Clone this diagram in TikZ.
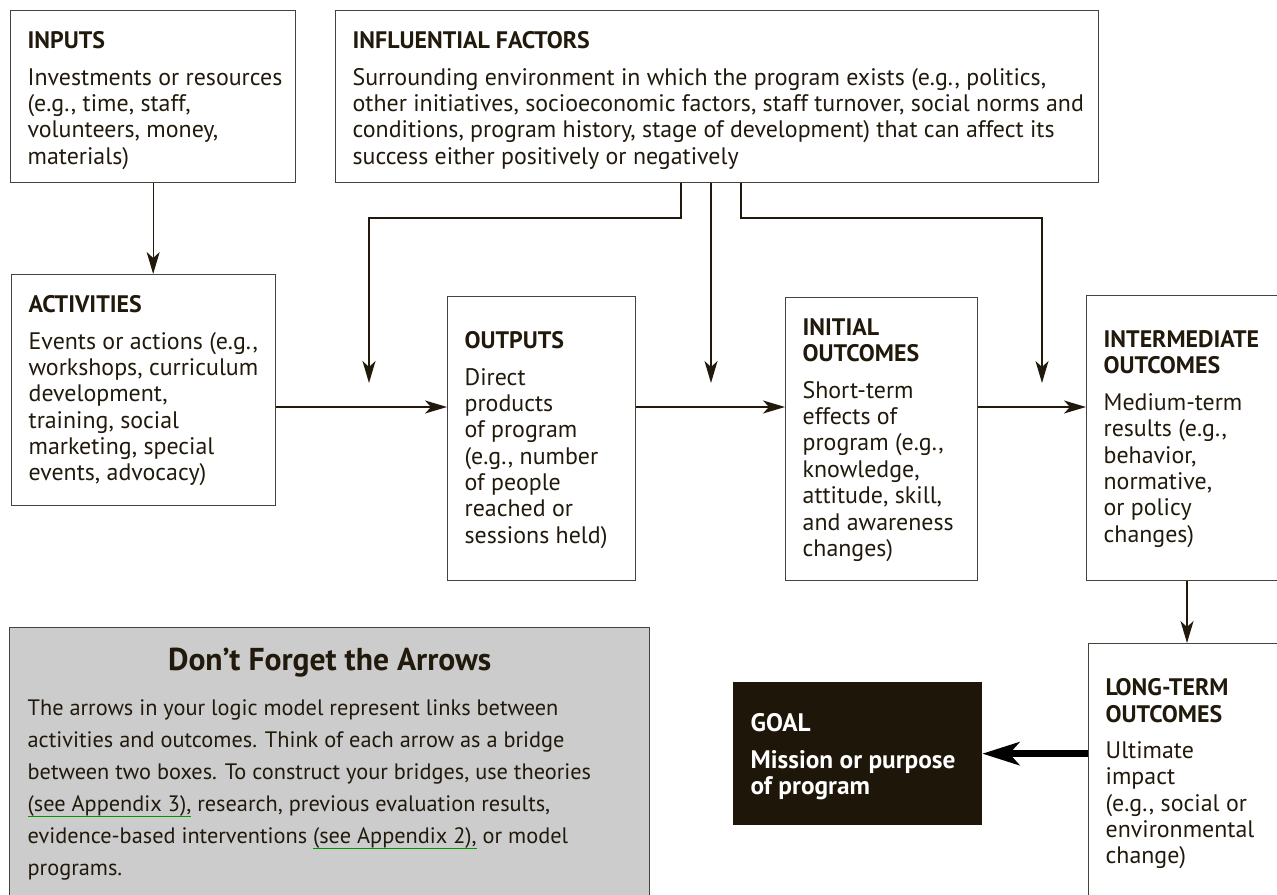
\documentclass[tikz,border=0pt]{standalone}
\usepackage{fontspec}
\setmainfont{PT Sans}
\usetikzlibrary{arrows.meta}

\definecolor{inkcol}{RGB}{33,26,12}
\definecolor{edgecol}{RGB}{72,66,58}
\definecolor{notefill}{RGB}{204,204,204}
\definecolor{goalfill}{RGB}{30,22,8}
\definecolor{linkgreen}{RGB}{0,150,0}

\newcommand{\stagefont}{\fontsize{13.6pt}{15pt}\selectfont}
% box text: [top offset]{width}{height}{title}{body}
\newcommand{\stagetext}[5][0pt]{\makebox[#2][l]{\parbox[t][#3][t]{24cm}{\raggedright\vspace*{#1}\textbf{#4}\\[0.2cm]#5}}}
\newlength{\linkwd}
\newcommand{\seelink}[1]{\leavevmode\settowidth{\linkwd}{#1}\rlap{\textcolor{linkgreen}{\rule[-3.6pt]{\linkwd}{0.9pt}}}#1}

\begin{document}
\begin{tikzpicture}[
    stage/.style={rectangle, draw=edgecol, line width=0.75pt, anchor=north west, inner xsep=0.34cm, inner ysep=0.42cm, font=\stagefont, text=inkcol},
    goalbox/.style={stage, draw=goalfill, fill=goalfill, text=white, font=\fontsize{14.4pt}{15pt}\selectfont},
    note/.style={rectangle, draw=edgecol, line width=0.75pt, fill=notefill, anchor=north west, inner xsep=0.36cm, inner ysep=0.4cm, text=inkcol},
    arrow/.style={-{Stealth[length=0.44cm, width=0.26cm, inset=0.12cm]}, line width=0.7pt, draw=inkcol},
    bigarrow/.style={-{Stealth[length=0.74cm, width=0.46cm, inset=0.2cm]}, line width=4.2pt, draw=black}
]
\useasboundingbox (0,0) rectangle (25.54,-17.9);
\clip (0,0) rectangle (25.54,-17.9);

% Ligne du haut
\node[stage] (inputs) at (0.2,-0.2) {\stagetext{5.02cm}{2.6cm}{INPUTS}{Investments or resources\\(e.g., time, staff,\\volunteers, money,\\materials)}};
\node[stage] (factors) at (6.7,-0.2) {\stagetext{14.58cm}{2.6cm}{INFLUENTIAL FACTORS}{Surrounding environment in which the program exists (e.g., politics,\\other initiatives, socioeconomic factors, staff turnover, social norms and\\conditions, program history, stage of development) that can affect its\\success either positively or negatively}};

% Chaine principale
\node[stage] (activities) at (0.22,-5.48) {\stagetext{4.6cm}{3.78cm}{ACTIVITIES}{Events or actions (e.g.,\\workshops, curriculum\\development,\\training, social\\marketing, special\\events, advocacy)}};
\node[stage] (outputs) at (8.94,-5.92) {\stagetext[0.28cm]{3.08cm}{4.84cm}{OUTPUTS}{Direct\\products\\of program\\(e.g., number\\of people\\reached or\\sessions held)}};
\node[stage] (initial) at (15.7,-5.94) {\stagetext{3.16cm}{4.82cm}{INITIAL\\OUTCOMES}{Short-term\\effects of\\program (e.g.,\\knowledge,\\attitude, skill,\\and awareness\\changes)}};
\node[stage] (intermediate) at (21.72,-5.9) {\stagetext[0.28cm]{4.32cm}{4.86cm}{INTERMEDIATE\\OUTCOMES}{Medium-term\\results (e.g.,\\behavior,\\normative,\\or policy\\changes)}};
\node[stage] (longterm) at (21.76,-12.86) {\stagetext[0.28cm]{4.32cm}{5.16cm}{LONG-TERM\\OUTCOMES}{Ultimate\\impact\\(e.g., social or\\environmental\\change)}};
\node[goalbox] (goal) at (14.66,-13.64) {\stagetext[0.2cm]{4.28cm}{2.0cm}{GOAL}{{\bfseries Mission or purpose\\of program}}};

% Encadre gris
\node[note] (arrowsnote) at (0.18,-12.54) {\parbox[t][5.2cm][t]{12.08cm}{%
  {\centering\fontsize{18pt}{20pt}\selectfont\bfseries Don’t Forget the Arrows\par}
  \vspace{0.26cm}
  {\raggedright\fontsize{12.7pt}{0.64cm}\selectfont The arrows in your logic model represent links between\\activities and outcomes. Think of each arrow as a bridge\\between two boxes. To construct your bridges, use theories\\\seelink{(see Appendix 3),} research, previous evaluation results,\\evidence-based interventions \seelink{(see Appendix 2),} or model\\programs.\par}}};

% Fleches
\coordinate (flow) at (0,-8.14);
\coordinate (dropL) at (13.62,-4.36);
\coordinate (dropR) at (14.82,-4.36);
\coordinate (tipL) at (7.38,-7.66);
\coordinate (tipM) at (14.22,-7.66);
\coordinate (tipR) at (20.84,-7.66);

\draw[arrow] (inputs.south) -- (inputs.south |- activities.north);
\draw[arrow] (activities.east |- flow) -- (outputs.west |- flow);
\draw[arrow] (outputs.east |- flow) -- (initial.west |- flow);
\draw[arrow] (initial.east |- flow) -- (intermediate.west |- flow);

\draw[arrow] (factors.south -| dropL) -- (dropL) -| (tipL);
\draw[arrow] (factors.south -| tipM) -- (tipM);
\draw[arrow] (factors.south -| dropR) -- (dropR) -| (tipR);

\draw[arrow] ([xshift=2.02cm]intermediate.south west) -- ([xshift=2.02cm]intermediate.south west |- longterm.north);
\draw[bigarrow] (longterm.west |- goal.east) -- (goal.east);

\end{tikzpicture}
\end{document}
